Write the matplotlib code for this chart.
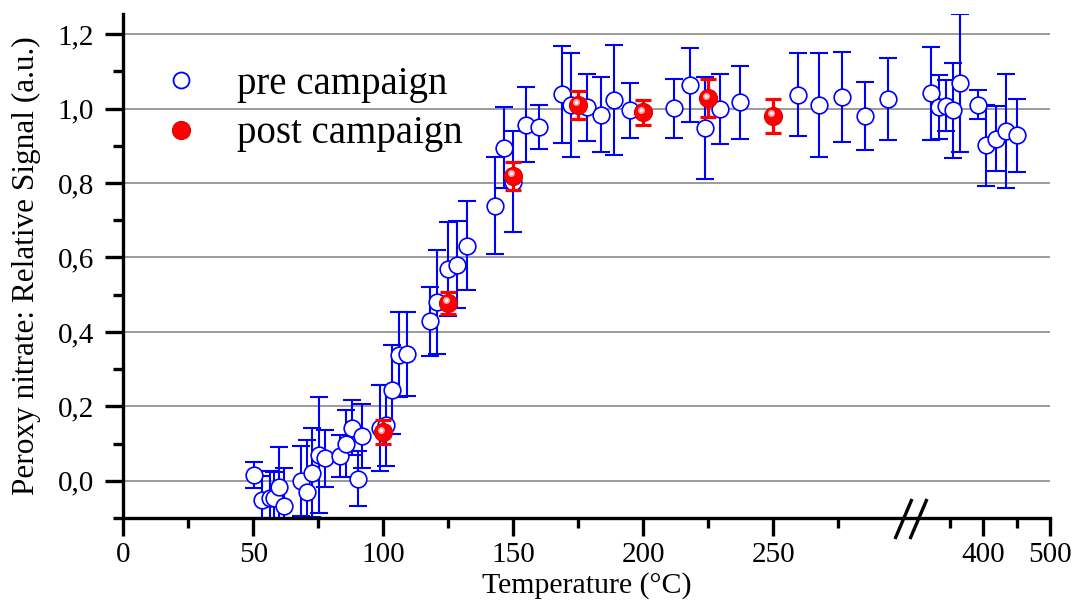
import numpy as np
import matplotlib
matplotlib.use("Agg")
import matplotlib.pyplot as plt
from matplotlib import transforms as mtrans
from matplotlib.lines import Line2D

# ---------------- data ----------------
pre_T = [50.4, 53.2, 56.3, 58.0, 59.8, 61.8, 68.2, 70.5, 72.4, 75.1, 77.5, 83.4, 85.7,
         87.9, 90.3, 92.0, 98.7, 100.9, 103.3, 106.2, 109.3, 118.1, 120.8, 124.8, 128.5,
         132.1, 143.0, 146.3, 150.0, 154.9, 159.8, 168.9, 172.2, 178.5, 183.6, 188.9,
         194.8, 211.7, 218.0, 223.9, 229.7, 237.4, 259.6, 267.6, 276.5, 285.4, 294.1,
         321.6, 333.6, 344.4, 354.5, 365.4, 391.4, 404.5, 418.6, 434.2, 449.9]
pre_y = [0.015, -0.051, -0.045, -0.047, -0.018, -0.067, 0.0, -0.03, 0.022, 0.07, 0.06,
         0.067, 0.10, 0.143, 0.006, 0.12, 0.141, 0.149, 0.245, 0.339, 0.341, 0.428, 0.480,
         0.569, 0.58, 0.632, 0.739, 0.895, 0.803, 0.957, 0.950, 1.038, 1.010, 1.004, 0.984,
         1.022, 0.995, 1.001, 1.064, 0.948, 0.999, 1.017, 1.037, 1.010, 1.031, 0.980, 1.026,
         1.041, 1.004, 1.008, 0.995, 1.069, 1.010, 0.901, 0.919, 0.939, 0.928]
pre_err = [0.035, 0.065, 0.07, 0.07, 0.11, 0.10, 0.094, 0.14, 0.12, 0.156, 0.076, 0.056,
           0.09, 0.074, 0.075, 0.085, 0.116, 0.108, 0.12, 0.114, 0.112, 0.093, 0.14, 0.126,
           0.117, 0.12, 0.13, 0.109, 0.136, 0.10, 0.06, 0.13, 0.14, 0.09, 0.10, 0.148, 0.074,
           0.079, 0.10, 0.137, 0.095, 0.098, 0.112, 0.14, 0.12, 0.092, 0.11, 0.125, 0.087,
           0.069, 0.128, 0.185, 0.039, 0.109, 0.088, 0.153, 0.098]

post_T = [100, 125, 150, 175, 200, 225, 250]
post_y = [0.131, 0.478, 0.819, 1.010, 0.990, 1.028, 0.980]
post_err = [0.032, 0.030, 0.037, 0.037, 0.034, 0.051, 0.046]

x_major = [0, 50, 100, 150, 200, 250, 400, 500]
x_major_labels = ["0", "50", "100", "150", "200", "250", "400", "500"]
x_minor = [25, 75, 125, 175, 225, 275, 350, 450]
y_major = [0.0, 0.2, 0.4, 0.6, 0.8, 1.0, 1.2]
y_major_labels = ["0,0", "0,2", "0,4", "0,6", "0,8", "1,0", "1,2"]
y_minor = [-0.1, 0.1, 0.3, 0.5, 0.7, 0.9, 1.1]

legend_labels = ["pre campaign", "post campaign"]
xlabel = "Temperature (°C)"
ylabel = "Peroxy nitrate: Relative Signal (a.u.)"

# ---------------- broken x scale ----------------
BREAK = 300.0
RESTART = 305.2
SLOPE2 = 0.2564


def fwd(t):
    t = np.asarray(t, dtype=float)
    return np.where(t <= BREAK, t, RESTART + (t - BREAK) * SLOPE2)


def inv(u):
    u = np.asarray(u, dtype=float)
    return np.where(u <= BREAK, u,
                    np.where(u < RESTART, BREAK, BREAK + (u - RESTART) / SLOPE2))


plt.rcParams['font.family'] = ['Liberation Serif', 'DejaVu Serif']

W, H = 1075, 605
fig = plt.figure(figsize=(W / 100, H / 100), dpi=100)
left, right, top, bottom = 123.3, 1050.0, 14.0, 518.0
ax = fig.add_axes([left / W, (H - bottom) / H, (right - left) / W, (bottom - top) / H])

ax.set_xscale('function', functions=(fwd, inv))
ax.set_xlim(0, 500)
ax.set_ylim(-0.1, 1.254)

blue = '#0000ff'
red = '#ff0000'

# grid
for yv in y_major:
    ax.axhline(yv, color='#8a8a8a', lw=1.2, zorder=0)

# pre campaign error bars then markers
ax.errorbar(pre_T, pre_y, yerr=pre_err, fmt='none', ecolor=blue, elinewidth=1.5,
            capsize=6.5, capthick=1.5, zorder=2)
ax.plot(pre_T, pre_y, 'o', ms=12, mfc='white', mec=blue, mew=1.2, zorder=3, ls='none')

# post campaign
ax.errorbar(post_T, post_y, yerr=post_err, fmt='none', ecolor=red, elinewidth=2.3,
            capsize=6, capthick=2.3, zorder=4)
ax.plot(post_T, post_y, 'o', ms=13, mfc=red, mec='#e00000', mew=0.8, zorder=5, ls='none')
hl = mtrans.offset_copy(ax.transData, fig=fig, x=-1.8, y=1.8, units='points')
ax.plot(post_T, post_y, 'o', ms=5, mfc='#ffc8c8', mec='none', alpha=0.85,
        transform=hl, zorder=6, ls='none')
ax.plot(post_T, post_y, 'o', ms=2.4, mfc='white', mec='none', alpha=0.9,
        transform=hl, zorder=7, ls='none')

# spines
for s in ['top', 'right']:
    ax.spines[s].set_visible(False)
for s in ['left', 'bottom']:
    ax.spines[s].set_linewidth(2.4)

ax.set_xticks(x_major)
ax.set_xticklabels(x_major_labels)
ax.set_xticks(x_minor, minor=True)
ax.set_yticks(y_major)
ax.set_yticklabels(y_major_labels)
ax.set_yticks(y_minor, minor=True)
ax.tick_params(which='major', direction='out', length=13, width=2.4, labelsize=21, pad=4.5)
ax.tick_params(which='minor', direction='out', length=7, width=2.4)
ax.tick_params(axis='y', which='major', pad=8)

ax.set_xlabel(xlabel, fontsize=21.5)
ax.xaxis.set_label_coords(0.5, -0.107)
ax.set_ylabel(ylabel, fontsize=22.5)
ax.yaxis.set_label_coords(-0.089, 0.5)

# break marks
ah = bottom - top
aw = right - left
for x0 in (895.0, 910.0):
    xs = [(x0 - left) / aw, (x0 + 17 - left) / aw]
    ys = [(bottom - 539) / ah, (bottom - 499) / ah]
    ax.plot(xs, ys, color='black', lw=2.4, transform=ax.transAxes, clip_on=False,
            zorder=10, solid_capstyle='butt')

# legend
h_pre = Line2D([], [], ls='none', marker='o', ms=11.5, mfc='white', mec=blue, mew=1.3)
h_post = Line2D([], [], ls='none', marker='o', ms=13, mfc=red, mec='#e00000', mew=0.8)
leg = ax.legend([h_pre, h_post], legend_labels, loc='upper left',
                bbox_to_anchor=(0.024, 0.928), frameon=False, fontsize=28,
                handlelength=1.0, handletextpad=0.96, labelspacing=0.32,
                borderaxespad=0.0)

fig.savefig('out.png', dpi=100)
